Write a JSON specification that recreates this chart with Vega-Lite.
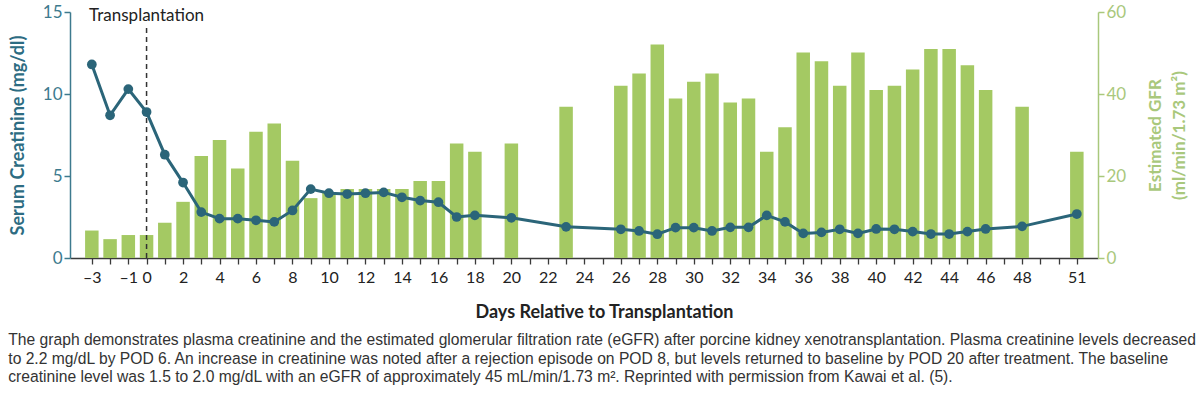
{
  "$schema": "https://vega.github.io/schema/vega-lite/v6.json",
  "width": 1028,
  "height": 246,
  "autosize": "none",
  "padding": {"left": 70, "top": 12, "right": 102, "bottom": 136},
  "background": "white",
  "config": {"view": {"stroke": null}},
  "title": {
    "text": [
      "The graph demonstrates plasma creatinine and the estimated glomerular filtration rate (eGFR) after porcine kidney xenotransplantation. Plasma creatinine levels decreased",
      "to 2.2 mg/dL by POD 6. An increase in creatinine was noted after a rejection episode on POD 8, but levels returned to baseline by POD 20 after treatment. The baseline",
      "creatinine level was 1.5 to 2.0 mg/dL with an eGFR of approximately 45 mL/min/1.73 m². Reprinted with permission from Kawai et al. (5)."
    ],
    "orient": "bottom",
    "anchor": "start",
    "frame": "bounds",
    "font": "Liberation Sans",
    "fontSize": 15.65,
    "fontWeight": "normal",
    "color": "#333333",
    "lineHeight": 18.5,
    "offset": 12,
    "dx": -1
  },
  "data": {
    "values": [
      {"day": -3, "cr": 11.8, "gfr": 6.7},
      {"day": -2, "cr": 8.7, "gfr": 4.6},
      {"day": -1, "cr": 10.3, "gfr": 5.6},
      {"day": 0, "cr": 8.9, "gfr": 5.6},
      {"day": 1, "cr": 6.3, "gfr": 8.6},
      {"day": 2, "cr": 4.6, "gfr": 13.7},
      {"day": 3, "cr": 2.8, "gfr": 24.9},
      {"day": 4, "cr": 2.4, "gfr": 28.8},
      {"day": 5, "cr": 2.4, "gfr": 21.8},
      {"day": 6, "cr": 2.3, "gfr": 30.8},
      {"day": 7, "cr": 2.2, "gfr": 32.8},
      {"day": 8, "cr": 2.9, "gfr": 23.7},
      {"day": 9, "cr": 4.2, "gfr": 14.6},
      {"day": 10, "cr": 3.95, "gfr": 15.9},
      {"day": 11, "cr": 3.9, "gfr": 16.8},
      {"day": 12, "cr": 3.95, "gfr": 16.8},
      {"day": 13, "cr": 4.0, "gfr": 16.8},
      {"day": 14, "cr": 3.7, "gfr": 16.8},
      {"day": 15, "cr": 3.5, "gfr": 18.8},
      {"day": 16, "cr": 3.4, "gfr": 18.8},
      {"day": 17, "cr": 2.5, "gfr": 27.9},
      {"day": 18, "cr": 2.6, "gfr": 25.9},
      {"day": 20, "cr": 2.45, "gfr": 27.9},
      {"day": 23, "cr": 1.9, "gfr": 36.9},
      {"day": 26, "cr": 1.75, "gfr": 42.0},
      {"day": 27, "cr": 1.65, "gfr": 45.0},
      {"day": 28, "cr": 1.45, "gfr": 52.1},
      {"day": 29, "cr": 1.85, "gfr": 38.9},
      {"day": 30, "cr": 1.85, "gfr": 43.0},
      {"day": 31, "cr": 1.65, "gfr": 45.0},
      {"day": 32, "cr": 1.87, "gfr": 37.9},
      {"day": 33, "cr": 1.87, "gfr": 38.9},
      {"day": 34, "cr": 2.6, "gfr": 25.9},
      {"day": 35, "cr": 2.2, "gfr": 31.9},
      {"day": 36, "cr": 1.5, "gfr": 50.1},
      {"day": 37, "cr": 1.56, "gfr": 48.0},
      {"day": 38, "cr": 1.75, "gfr": 42.0},
      {"day": 39, "cr": 1.5, "gfr": 50.1},
      {"day": 40, "cr": 1.77, "gfr": 41.0},
      {"day": 41, "cr": 1.75, "gfr": 42.0},
      {"day": 42, "cr": 1.61, "gfr": 46.0},
      {"day": 43, "cr": 1.46, "gfr": 51.0},
      {"day": 44, "cr": 1.46, "gfr": 51.0},
      {"day": 45, "cr": 1.61, "gfr": 47.0},
      {"day": 46, "cr": 1.77, "gfr": 41.0},
      {"day": 48, "cr": 1.93, "gfr": 36.9},
      {"day": 51, "cr": 2.68, "gfr": 25.9}
    ]
  },
  "encoding": {
    "x": {
      "field": "day",
      "type": "quantitative",
      "scale": {"domain": [-3.923, 51.886], "nice": false, "zero": false},
      "axis": {
        "values": [-3,-2,-1,0,1,2,3,4,5,6,7,8,9,10,11,12,13,14,15,16,17,18,19,20,21,22,23,24,25,26,27,28,29,30,31,32,33,34,35,36,37,38,39,40,41,42,43,44,45,46,47,48,49,50,51],
        "tickCount": 100,
        "labelExpr": "indexof([-3,-1,0,2,4,6,8,10,12,14,16,18,20,22,24,26,28,30,32,34,36,38,40,42,44,46,48,51], datum.value) >= 0 ? (datum.value < 0 ? '–' + abs(datum.value) : '' + datum.value) : ''",
        "labelOverlap": false,
        "labelBound": false,
        "labelFlush": false,
        "grid": false,
        "domainColor": "#3a3a3a",
        "domainWidth": 1.5,
        "tickColor": "#3a3a3a",
        "tickSize": 6,
        "tickWidth": 1.3,
        "labelFont": "Lato",
        "labelFontSize": 16,
        "labelColor": "#222222",
        "labelPadding": 5,
        "title": "Days Relative to Transplantation",
        "titleFont": "Lato",
        "titleFontSize": 18,
        "titleFontWeight": "bold",
        "titleColor": "#222222",
        "titlePadding": 18,
        "titleX": 534
      }
    }
  },
  "layer": [
    {
      "mark": {"type": "bar", "width": 13.5, "color": "#a4c963"},
      "encoding": {
        "y": {
          "field": "gfr",
          "type": "quantitative",
          "scale": {"domain": [0, 60], "nice": false},
          "axis": {
            "orient": "right",
            "values": [0, 20, 40, 60],
            "grid": false,
            "domainColor": "#a9c87c",
            "domainWidth": 1.5,
            "tickColor": "#a9c87c",
            "tickSize": 6,
            "tickWidth": 1.5,
            "labelFont": "Lato",
            "labelFontSize": 17,
            "labelColor": "#a9c87c",
            "labelPadding": 2,
            "title": ["Estimated GFR", "(ml/min/1.73 m²)"],
            "titleAngle": 270,
            "titleFont": "Lato",
            "titleFontSize": 17,
            "titleFontWeight": "bold",
            "titleColor": "#a9c87c",
            "titleLineHeight": 24,
            "titlePadding": 15
          }
        }
      }
    },
    {
      "layer": [
        {
          "data": {"values": [{"day": 0, "label": "Transplantation"}]},
          "mark": {"type": "rule", "strokeDash": [5, 4], "strokeWidth": 1.5, "color": "#333333"},
          "encoding": {
            "y": {"datum": 0, "type": "quantitative"},
            "y2": {"datum": 14.2}
          }
        },
        {
          "data": {"values": [{"day": 0, "label": "Transplantation"}]},
          "mark": {"type": "text", "font": "Lato", "fontSize": 17, "color": "#222222", "baseline": "middle", "align": "center"},
          "encoding": {
            "y": {"datum": 14.75, "type": "quantitative"},
            "text": {"field": "label"}
          }
        },
        {
          "mark": {"type": "line", "color": "#2b6579", "strokeWidth": 3},
          "encoding": {
            "y": {
              "field": "cr",
              "type": "quantitative",
              "scale": {"domain": [0, 15], "nice": false},
              "axis": {
                "orient": "left",
                "values": [0, 5, 10, 15],
                "grid": false,
                "domainColor": "#3d7a8e",
                "domainWidth": 1.5,
                "tickColor": "#3d7a8e",
                "tickSize": 6,
                "tickWidth": 1.5,
                "labelFont": "Lato",
                "labelFontSize": 17,
                "labelColor": "#3d7a8e",
                "labelPadding": 2,
                "title": "Serum Creatinine (mg/dl)",
                "titleFont": "Lato",
                "titleFontSize": 18,
                "titleFontWeight": "bold",
                "titleColor": "#2d6c82",
                "titlePadding": 15
              }
            }
          }
        },
        {
          "mark": {"type": "point", "filled": true, "opacity": 1, "size": 95, "color": "#2b6579"},
          "encoding": {
            "y": {"field": "cr", "type": "quantitative"}
          }
        }
      ]
    }
  ],
  "resolve": {"scale": {"y": "independent"}}
}
